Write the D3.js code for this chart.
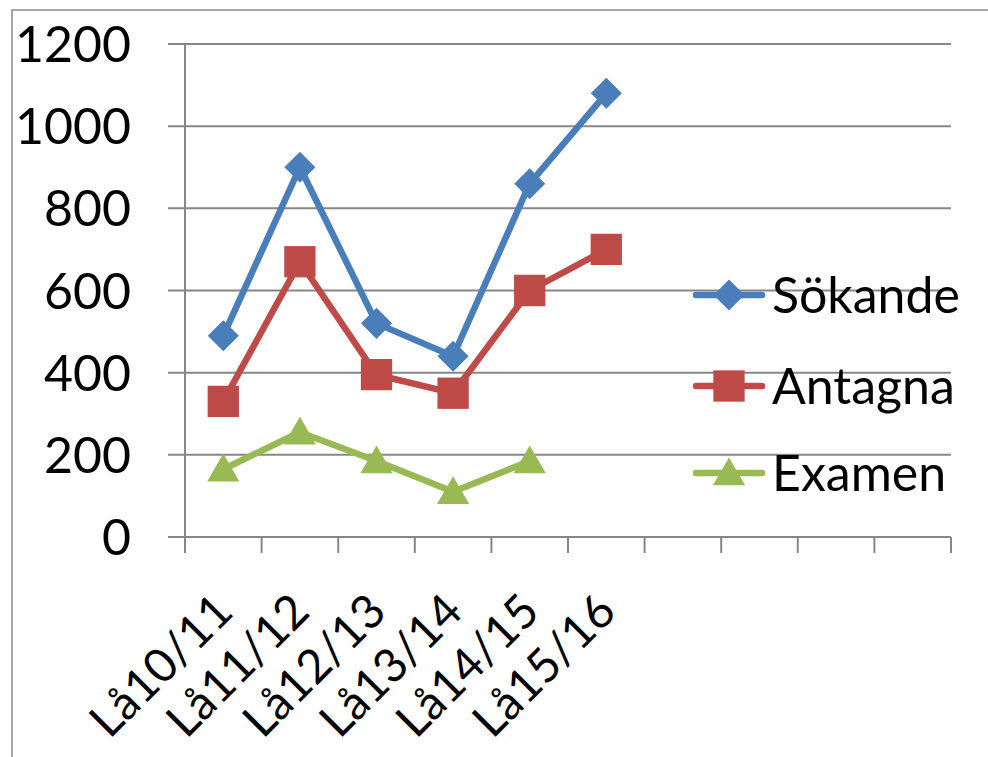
<!DOCTYPE html>
<html>
<head>
<meta charset="utf-8">
<script src="https://cdn.jsdelivr.net/npm/d3@7"></script>
<style>
  body { margin: 0; background: #fff; }
  text { font-family: Lato, "Liberation Sans", sans-serif; }
</style>
</head>
<body>
<div id="chart"></div>
<script>
const categories = ["Lå10/11", "Lå11/12", "Lå12/13", "Lå13/14", "Lå14/15", "Lå15/16", "", " ", "  ", "   "]
const sokande = [490, 900, 520, 440, 860, 1080]
const antagna = [330, 670, 395, 350, 600, 700]
const examen = [165, 255, 185, 110, 185]
const yTicks = [0, 200, 400, 600, 800, 1000, 1200]

const series = [
  {name: "Sökande", values: sokande, color: "#4a7ebb", shape: d3.symbolDiamond2, size: 615, dy: 0},
  {name: "Antagna", values: antagna, color: "#be4b48", shape: d3.symbolSquare, size: 980, dy: 0},
  {name: "Examen", values: examen, color: "#98b954", shape: d3.symbolTriangle, size: 450, dy: 3}
]

const width = 988, height = 757
const svg = d3.select("#chart").append("svg")
              .attr("width", width)
              .attr("height", height)

// outer chart border (cropped on right / bottom)
svg.append("path")
   .attr("d", "M12,757 L12,10 L988,10")
   .attr("fill", "none")
   .attr("stroke", "#8c8c8c")
   .attr("stroke-width", 1.5)

const x = d3.scaleBand().domain(categories).range([185, 951])
const y = d3.scaleLinear().domain([0, 1200]).range([537, 44])

const grid = "#878787"

// gridlines + y labels
const yAxis = svg.append("g")
yAxis.selectAll("line")
     .data(yTicks)
     .enter()
     .append("line")
     .attr("x1", 168)
     .attr("x2", 951)
     .attr("y1", d => y(d))
     .attr("y2", d => y(d))
     .attr("stroke", grid)
     .attr("stroke-width", 2)
yAxis.selectAll("text")
     .data(yTicks)
     .enter()
     .append("text")
     .attr("x", 131)
     .attr("y", d => y(d))
     .attr("dy", "0.36em")
     .attr("text-anchor", "end")
     .attr("font-size", 50)
     .text(d => d)

// y axis line
svg.append("line")
   .attr("x1", 185).attr("x2", 185)
   .attr("y1", y(1200)).attr("y2", 553)
   .attr("stroke", grid).attr("stroke-width", 2)

// x ticks
const xEdges = categories.map(c => x(c)).concat([x.range()[1]])
svg.append("g").selectAll("line")
   .data(xEdges)
   .enter()
   .append("line")
   .attr("x1", d => d).attr("x2", d => d)
   .attr("y1", y(0)).attr("y2", 553)
   .attr("stroke", grid).attr("stroke-width", 2)

// x labels
svg.append("g").selectAll("text")
   .data(categories.slice(0, 6))
   .enter()
   .append("text")
   .attr("transform", d => `translate(${x(d) + x.bandwidth() / 2 + 12},${614}) rotate(-45)`)
   .attr("text-anchor", "end")
   .attr("font-size", 47)
   .text(d => d)

const line = d3.line()
               .x((d, i) => x(categories[i]) + x.bandwidth() / 2)
               .y(d => y(d))

series.forEach(s => {
  const g = svg.append("g")
  g.append("path")
   .datum(s.values)
   .attr("d", line)
   .attr("fill", "none")
   .attr("stroke", s.color)
   .attr("stroke-width", 6.5)
   .attr("stroke-linejoin", "round")
  g.selectAll("path.m")
   .data(s.values)
   .enter()
   .append("path")
   .attr("class", "m")
   .attr("transform", (d, i) => `translate(${x(categories[i]) + x.bandwidth() / 2},${y(d) + s.dy})`)
   .attr("d", d3.symbol().type(s.shape).size(s.size))
   .attr("fill", s.color)
})

// legend
const legendY = [295, 386, 473]
series.forEach((s, i) => {
  const g = svg.append("g").attr("transform", `translate(0,${legendY[i]})`)
  g.append("line")
   .attr("x1", 696).attr("x2", 762)
   .attr("stroke", s.color).attr("stroke-width", 6.5)
   .attr("stroke-linecap", "round")
  g.append("path")
   .attr("transform", `translate(729,${s.dy})`)
   .attr("d", d3.symbol().type(s.shape).size(s.size))
   .attr("fill", s.color)
  g.append("text")
   .attr("x", 772)
   .attr("dy", "0.36em")
   .attr("font-size", 50)
   .text(s.name)
})
</script>
</body>
</html>
